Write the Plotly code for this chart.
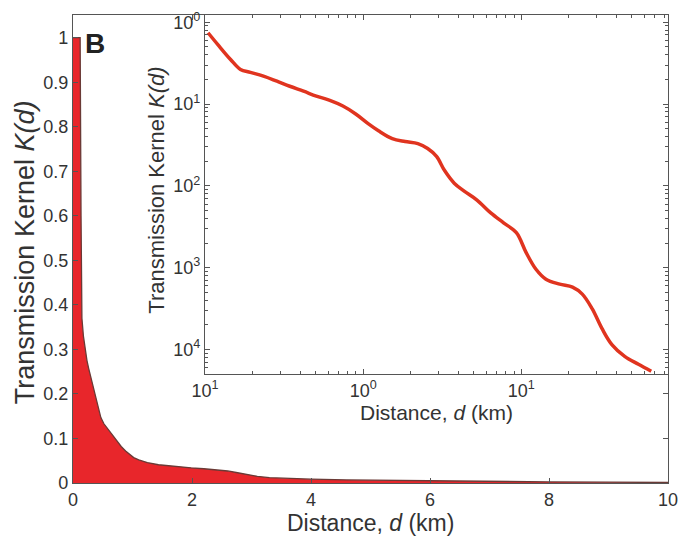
import plotly.graph_objects as go

# Main panel: transmission kernel on linear axes
main_d = [0, 0.06, 0.12, 0.135, 0.15, 0.175, 0.208, 0.235, 0.262, 0.295, 0.329, 0.36,
          0.395, 0.43, 0.468, 0.52, 0.58, 0.656, 0.73, 0.81, 0.884, 0.95, 1.02, 1.105,
          1.25, 1.437, 1.7, 1.985, 2.2, 2.434, 2.6, 2.766, 2.95, 3.098, 3.3, 3.6, 4.0,
          4.6, 5.3, 6.0, 7.0, 8.0, 9.0, 10.0]
main_k = [1.0, 1.0, 1.0, 0.6, 0.37, 0.33, 0.296, 0.275, 0.258, 0.24, 0.222, 0.203,
          0.184, 0.165, 0.147, 0.133, 0.122, 0.108, 0.094, 0.082, 0.072, 0.064, 0.057, 0.052,
          0.046, 0.041, 0.037, 0.034, 0.032, 0.030, 0.027, 0.023, 0.018, 0.015, 0.012, 0.010, 0.0085,
          0.007, 0.0058, 0.0048, 0.0035, 0.0025, 0.0018, 0.0012]

# Inset: same kernel on log-log axes
inset_d = [0.1045, 0.1205, 0.145, 0.1675, 0.1936, 0.2366, 0.285, 0.3436, 0.4198, 0.5058,
           0.6095, 0.7447, 0.8974, 1.081, 1.250, 1.528, 1.841, 2.218, 2.559, 2.911,
           3.266, 3.767, 4.355, 5.248, 6.412, 7.727, 9.311, 10.74, 12.39, 14.32,
           17.50, 21.09, 24.32, 28.12, 32.43, 37.41, 45.08, 55.08, 66.37]
inset_k = [0.743, 0.532, 0.350, 0.265, 0.244, 0.218, 0.190, 0.165, 0.1435, 0.125,
           0.1117, 0.0946, 0.0757, 0.0573, 0.0472, 0.0378, 0.0348, 0.0328, 0.0286, 0.0229,
           0.0155, 0.0108, 0.00863, 0.00671, 0.00468, 0.00354, 0.00268, 0.00153, 0.000957, 0.000724,
           0.000630, 0.000579, 0.000476, 0.000314, 0.000180, 0.000115, 0.0000826, 0.0000661, 0.0000543]

main_xticks = [0, 2, 4, 6, 8, 10]
main_yticks = [0, 0.1, 0.2, 0.3, 0.4, 0.5, 0.6, 0.7, 0.8, 0.9, 1]
main_ytext = ["0", "0.1", "0.2", "0.3", "0.4", "0.5", "0.6", "0.7", "0.8", "0.9", "1"]
inset_xticks = [0.1, 1, 10]
inset_xtext = ["10<sup>1</sup>", "10<sup>0</sup>", "10<sup>1</sup>"]
inset_yticks = [1e-4, 1e-3, 1e-2, 1e-1, 1]
inset_ytext = ["10<sup>4</sup>", "10<sup>3</sup>", "10<sup>2</sup>", "10<sup>1</sup>", "10<sup>0</sup>"]
inset_xminor = [0.2, 0.3, 0.4, 0.5, 0.6, 0.7, 0.8, 0.9, 2, 3, 4, 5, 6, 7, 8, 9,
                20, 30, 40, 50, 60, 70, 80]
inset_yminor = [m * 10.0 ** e for e in (-5, -4, -3, -2, -1) for m in (2, 3, 4, 5, 6, 7, 8, 9)]

FONT = "Liberation Sans, Arial, sans-serif"
TXT = "#333333"
AX = "#555555"

fig = go.Figure()
fig.add_trace(go.Scatter(
    x=main_d, y=main_k, mode="lines", fill="tozeroy", fillcolor="#e8262b",
    line=dict(color="#6a3a36", width=1.3), xaxis="x", yaxis="y", showlegend=False,
    hoverinfo="skip"))
fig.add_trace(go.Scatter(
    x=inset_d, y=inset_k, mode="lines",
    line=dict(color="#e0341f", width=3.5, shape="spline", smoothing=1.0),
    xaxis="x2", yaxis="y2", showlegend=False, hoverinfo="skip"))

axis_common = dict(showgrid=False, zeroline=False, showline=True, linecolor=AX,
                   linewidth=1.2, ticks="inside", tickcolor=AX, mirror="ticks",
                   tickfont=dict(family=FONT, size=18, color=TXT))

fig.update_layout(
    width=688, height=543,
    margin=dict(l=73, r=11, t=10, b=60),
    paper_bgcolor="white", plot_bgcolor="white",
    font=dict(family=FONT, color=TXT),
    xaxis=dict(axis_common, domain=[0, 1], range=[0, 10], tickvals=main_xticks,
               ticklen=5, anchor="y"),
    yaxis=dict(axis_common, domain=[0, 1], range=[0, 1.051], tickvals=main_yticks,
               ticktext=main_ytext, ticklen=5, anchor="x"),
    xaxis2=dict(axis_common, type="log", domain=[0.2219, 1], range=[-1, 1.928],
                tickvals=inset_xticks, ticktext=inset_xtext, ticklen=5, anchor="y2",
                minor=dict(ticks="inside", ticklen=3, tickcolor=AX, tickmode="array",
                           tickvals=inset_xminor, showgrid=False)),
    yaxis2=dict(axis_common, type="log", domain=[0.2326, 1], range=[-4.30, 0.088],
                tickvals=inset_yticks, ticktext=inset_ytext, ticklen=5, anchor="x2",
                minor=dict(ticks="inside", ticklen=3, tickcolor=AX, tickmode="array",
                           tickvals=inset_yminor, showgrid=False)),
)

# Inset background so it sits on top of the main panel
fig.add_shape(type="rect", xref="paper", yref="paper", x0=0.2219, x1=1, y0=0.2326, y1=1,
              fillcolor="white", line=dict(width=0), layer="below")

annots = [
    dict(text="Distance, <i>d</i> (km)", x=0.5, y=-0.085, size=23, angle=0),
    dict(text="Transmission Kernel <i>K(d)</i>", x=-0.0795, y=0.4926, size=27, angle=-90),
    dict(text="Distance, <i>d</i> (km)", x=0.611, y=0.150, size=21, angle=0),
    dict(text="Transmission Kernel <i>K(d)</i>", x=0.139, y=0.626, size=22, angle=-90),
]
for a in annots:
    fig.add_annotation(text=a["text"], x=a["x"], y=a["y"], xref="paper", yref="paper",
                       xanchor="center", yanchor="middle", showarrow=False,
                       textangle=a["angle"], font=dict(family=FONT, size=a["size"], color=TXT))

fig.add_annotation(text="<b>B</b>", x=0.037, y=0.94, xref="paper", yref="paper",
                   xanchor="center", yanchor="middle", showarrow=False,
                   font=dict(family=FONT, size=28, color="#222222"))

fig.write_html("out.html")
